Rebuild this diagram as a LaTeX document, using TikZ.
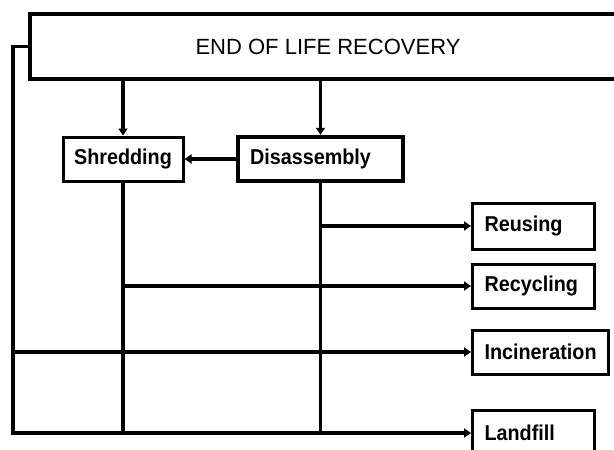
\documentclass[tikz,border=0pt]{standalone}
\usepackage{fontspec}
\setmainfont{Liberation Sans}
\newfontfamily\boxfont[FakeStretch=0.92]{Liberation Sans}
\usetikzlibrary{arrows.meta}

\begin{document}
\begin{tikzpicture}[
        x=1pt, y=-1pt,
        line width=3.6pt,
        font=\fontsize{21.5}{25}\boxfont\bfseries,
        arr/.style={-{Triangle[length=7pt,width=9pt]}},
        unit/.style={
            draw,
            line width=3pt,
            minimum height=44pt,
            inner sep=0pt
        },
        outcome/.style={
            draw,
            line width=3pt,
            anchor=west,
            align=left,
            text width=#1,
            minimum height=44pt,
            inner xsep=12pt,
            inner ysep=0pt
        },
        outcome/.default=98pt
    ]

    \clip (0,0) rectangle (614,450);

    \node[draw, line width=4.5pt, minimum width=596pt, minimum height=65pt, font=\fontsize{22}{26}\rmfamily] (eol) at (328,46.5) {END OF LIFE RECOVERY};

    \node[unit, minimum width=120pt] (shred) at (123,159) {Shredding};
    \node[unit, line width=4.5pt, minimum width=165pt, text width=141pt, align=left] (dis) at (320.5,159) {Disassembly};

    \node[outcome, minimum height=46pt] (reuse) at (471,226) {Reusing};
    \node[outcome] (recyc) at (471,286) {Recycling};
    \node[outcome=112pt] (incin) at (471,352) {Incineration};
    \node[outcome, minimum height=46pt] (land) at (471,433) {Landfill};

    \coordinate (rail) at (13,46.5);

    \draw[arr] (eol.south -| shred.north) -- (shred.north);
    \draw[arr] (eol.south -| dis.north) -- (dis.north);
    \draw[arr] (dis.west) -- (shred.east);
    \draw (shred.south) -- (shred.south |- land.west);
    \draw (dis.south) -- (dis.south |- land.west);
    \draw[arr] (dis.south |- reuse.west) -- (reuse.west);
    \draw[arr] (shred.south |- recyc.west) -- (recyc.west);
    \draw[arr] (eol.west) -- (rail) |- (land.west);
    \draw[arr] (rail |- incin.west) -- (incin.west);

\end{tikzpicture}
\end{document}
